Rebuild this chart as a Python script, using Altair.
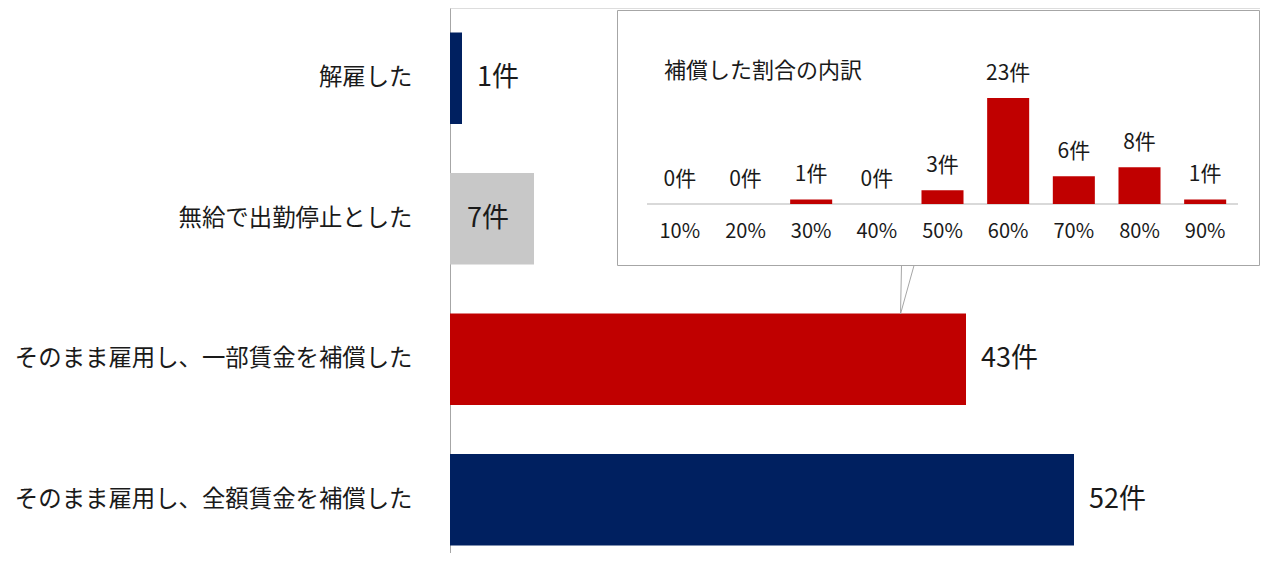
import altair as alt
import pandas as pd

# ---- data ----
categories = ["解雇した", "無給で出勤停止とした",
              "そのまま雇用し、一部賃金を補償した", "そのまま雇用し、全額賃金を補償した"]
counts = [1, 7, 43, 52]
bar_colors = ["#002060", "#C8C8C8", "#C00000", "#002060"]
inside_label_category = "無給で出勤停止とした"

inset_title = "補償した割合の内訳"
inset_pcts = ["10%", "20%", "30%", "40%", "50%", "60%", "70%", "80%", "90%"]
inset_counts = [0, 0, 1, 0, 3, 23, 6, 8, 1]

unit = "件"
FONT = "Noto Sans CJK JP"

main_df = pd.DataFrame({
    "category": categories,
    "count": counts,
    "label": [f"{c}{unit}" for c in counts],
})
inset_df = pd.DataFrame({
    "pct": inset_pcts,
    "count": inset_counts,
    "label": [f"{c}{unit}" for c in inset_counts],
})
title_df = pd.DataFrame({"t": [inset_title]})
one_df = pd.DataFrame({"k": [0]})

# ---- main chart ----
y_main = alt.Y(
    "category:N",
    sort=categories,
    scale=alt.Scale(domain=categories, range=[0, 562], paddingInner=0.35, paddingOuter=0.175),
    axis=alt.Axis(title=None, ticks=False, labelPadding=38, labelFontSize=23.4,
                  labelFont=FONT, labelColor="#1a1a1a", labelLimit=0,
                  domainColor="#A6A6A6", domainWidth=1, grid=False),
)
x_main = alt.X("count:Q", scale=alt.Scale(domain=[0, 52], range=[0, 624], nice=False),
               axis=None)

bars = alt.Chart(main_df).mark_bar().encode(
    x=x_main, y=y_main,
    color=alt.Color("category:N", scale=alt.Scale(domain=categories, range=bar_colors),
                    legend=None),
)
labels_out = alt.Chart(main_df).transform_filter(
    alt.datum.category != inside_label_category
).mark_text(align="left", baseline="middle", dx=15, fontSize=27, font=FONT,
            color="#1a1a1a").encode(x=x_main, y=y_main, text="label:N")
labels_in = alt.Chart(main_df).transform_filter(
    alt.datum.category == inside_label_category
).mark_text(align="left", baseline="middle", dx=17, fontSize=27, font=FONT,
            color="#1a1a1a").encode(x=alt.value(0), y=y_main, text="label:N")

main = alt.layer(bars, labels_out, labels_in)

# ---- inset ----
box = alt.Chart(one_df).mark_rect(fill="white", stroke="#A6A6A6", strokeWidth=1).encode(
    x=alt.value(167.5), x2=alt.value(809.5), y=alt.value(2.5), y2=alt.value(257.5)
)
call1 = alt.Chart(one_df).mark_rule(color="#A6A6A6", strokeWidth=1).encode(
    x=alt.value(451.5), x2=alt.value(450.5), y=alt.value(257.5), y2=alt.value(306)
)
call2 = alt.Chart(one_df).mark_rule(color="#A6A6A6", strokeWidth=1).encode(
    x=alt.value(464), x2=alt.value(450.5), y=alt.value(257.5), y2=alt.value(306)
)
title_txt = alt.Chart(title_df).mark_text(
    align="left", baseline="middle", fontSize=22, font=FONT, color="#1a1a1a"
).encode(x=alt.value(214), y=alt.value(63), text="t:N")

x_in = alt.X("pct:N", sort=inset_pcts,
             scale=alt.Scale(domain=inset_pcts, range=[197, 788],
                             paddingInner=0.36, paddingOuter=0.18),
             axis=None)
y_in = alt.Y("count:Q", scale=alt.Scale(domain=[0, 23], range=[196, 90], nice=False),
             axis=None)

baseline_rule = alt.Chart(one_df).mark_rule(color="#D9D9D9", strokeWidth=2).encode(
    x=alt.value(197), x2=alt.value(788), y=alt.value(196)
)
in_bars = alt.Chart(inset_df).mark_bar(color="#C00000").encode(x=x_in, y=y_in)
in_vals = alt.Chart(inset_df).mark_text(
    align="center", baseline="alphabetic", dy=-18, fontSize=21, font=FONT, color="#1a1a1a"
).encode(x=x_in, y=y_in, text="label:N")
in_ticks = alt.Chart(inset_df).mark_text(
    align="center", baseline="middle", fontSize=20, font=FONT, color="#1a1a1a"
).encode(x=x_in, y=alt.value(224), text="pct:N")

inset = alt.layer(box, call1, call2, title_txt, baseline_rule, in_bars, in_vals, in_ticks)

chart = alt.layer(main, inset).resolve_scale(
    x="independent", y="independent", color="independent"
).properties(
    width=810, height=545,
    autosize=alt.AutoSizeParams(type="none"),
    padding={"left": 442, "top": 0, "right": 0, "bottom": 0},
).configure_view(strokeWidth=0).configure(background="white")

chart.save("out.html", embed_options={"renderer": "svg", "actions": False})
